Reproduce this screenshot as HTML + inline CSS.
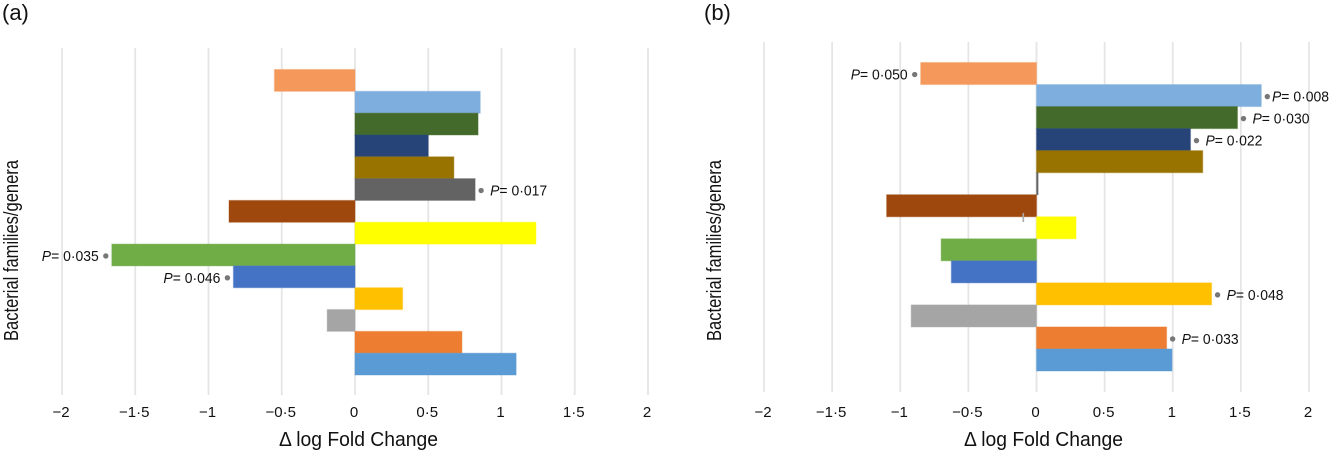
<!DOCTYPE html>
<html>
<head>
<meta charset="utf-8">
<style>
html,body{margin:0;padding:0;background:#fff;width:1332px;height:450px;overflow:hidden}
svg{display:block;font-family:"Liberation Sans",sans-serif;fill:#111}
</style>
</head>
<body>
<svg id="chart" width="1332" height="450" viewBox="0 0 1332 450" xmlns="http://www.w3.org/2000/svg"></svg>
<script>
const taxa = ['t14','t13','t12','t11','t10','t9','t8','t7','t6','t5','t4','t3','t2','t1'];
const barColors = ['#f4995b','#7eaedd','#446a2b','#264478','#997300','#636363','#9e480e','#ffff00','#70ad47','#4472c4','#ffc000','#a5a5a5','#ed7d31','#5b9bd5'];
const tickValues = [-2,-1.5,-1,-0.5,0,0.5,1,1.5,2];
const tickLabels = ['−2','−1·5','−1','−0·5','0','0·5','1','1·5','2'];
const valuesA = [-0.55,0.855,0.84,0.5,0.675,0.82,-0.86,1.235,-1.66,-0.83,0.325,-0.19,0.73,1.1];
const valuesB = [-0.85,1.65,1.475,1.13,1.22,0.012,-1.1,0.29,-0.70,-0.625,1.285,-0.92,0.955,0.995];
const pTaxaA = ['t9','t6','t5'];
const pTextA = ['0·017','0·035','0·046'];
const pTaxaB = ['t14','t13','t12','t11','t4','t2'];
const pTextB = ['0·050','0·008','0·030','0·022','0·048','0·033'];

const NS = 'http://www.w3.org/2000/svg';
const root = document.getElementById('chart');
function make(tag, attrs, parent, text){
  const el = document.createElementNS(NS, tag);
  for(const k in attrs){ el.setAttribute(k, attrs[k]); }
  if(text !== undefined){ el.textContent = text; }
  parent.appendChild(el);
  return el;
}
function drawPanel(cfg){
  const g = make('g', {}, root);
  
  
  const xScale = v => cfg.xLeft + (v - tickValues[0]) / (tickValues[tickValues.length-1] - tickValues[0]) * (cfg.xRight - cfg.xLeft);
  const band = (cfg.barBottom - cfg.barTop) / taxa.length;
  const yScale = t => cfg.barTop + taxa.indexOf(t) * band;

  const panelLabel = make('text', {x:cfg.labelX, y:20, 'font-size':22}, g, cfg.label);
  
  

  tickValues.forEach((v,i) => {
    const line = make('line', {x1:xScale(v), x2:xScale(v), y1:cfg.gridTop, y2:cfg.gridBottom, stroke:'#e5e5e5', 'stroke-width':1.8}, g);
    
    
    const tick = make('text', {x:xScale(v)-1, y:cfg.tickY, 'text-anchor':'middle', 'font-size':15}, g, tickLabels[i]);
    
    
  });

  taxa.forEach((t,i) => {
    const v = cfg.values[i];
    const x0 = xScale(0), x1 = xScale(v);
    const bar = make('rect', {x:Math.min(x0,x1), y:yScale(t), width:Math.abs(x1-x0), height:band,
      fill:barColors[i], stroke:barColors[i], 'stroke-opacity':0.35, 'stroke-width':1.2}, g);
    
    
  });

  const labelWidth = 57;
  const rightLimit = 1329 - labelWidth;
  cfg.pTaxa.forEach((t,i) => {
    const v = cfg.values[taxa.indexOf(t)];
    const end = xScale(v);
    const cy = yScale(t) + band/2 + 1;
    const dir = v >= 0 ? 1 : -1;
    const star = make('circle', {cx:end + dir*6, cy:cy, r:2.7, fill:'#777'}, g);
    
    
    const label = make('text', {
      x: dir > 0 ? Math.min(end + 15, rightLimit) : end - 13,
      y: cy + 5,
      'text-anchor': dir > 0 ? 'start' : 'end',
      'font-size': 14.5,
      textLength: labelWidth,
      lengthAdjust: 'spacingAndGlyphs'
    }, g);
    
    
    make('tspan', {'font-style':'italic'}, label, 'P');
    make('tspan', {}, label, '= ' + cfg.pText[i]);
  });

  const xTitle = make('text', {x:cfg.xTitleX, y:cfg.xTitleY, 'font-size':20.5, textLength:cfg.xTitleW, lengthAdjust:'spacingAndGlyphs'}, g, 'Δ log Fold Change');
  
  

  const yTitle = make('text', {transform:'translate(' + cfg.yTitleX + ',341) rotate(-90)', x:0, y:0, 'font-size':20.5, textLength:181, lengthAdjust:'spacingAndGlyphs'}, g, 'Bacterial families/genera');
  
  
  return {xScale:xScale, yScale:yScale, band:band, g:g};
}
drawPanel({name:'panel-a', label:'(a)', labelX:2, xLeft:62, xRight:648, gridTop:48, gridBottom:395,
  barTop:69.5, barBottom:375, values:valuesA, pTaxa:pTaxaA, pText:pTextA, tickY:417,
  xTitleX:279, xTitleY:446, xTitleW:159, yTitleX:18});
const panelB = drawPanel({name:'panel-b', label:'(b)', labelX:704, xLeft:764, xRight:1309, gridTop:42, gridBottom:392,
  barTop:62.5, barBottom:371, values:valuesB, pTaxa:pTaxaB, pText:pTextB, tickY:417,
  xTitleX:964, xTitleY:446, xTitleW:159, yTitleX:721});
const errorMark = make('rect', {x:panelB.xScale(0)-14, y:213, width:1.6, height:9, fill:'#aaa'}, panelB.g);


</script>
</body>
</html>
